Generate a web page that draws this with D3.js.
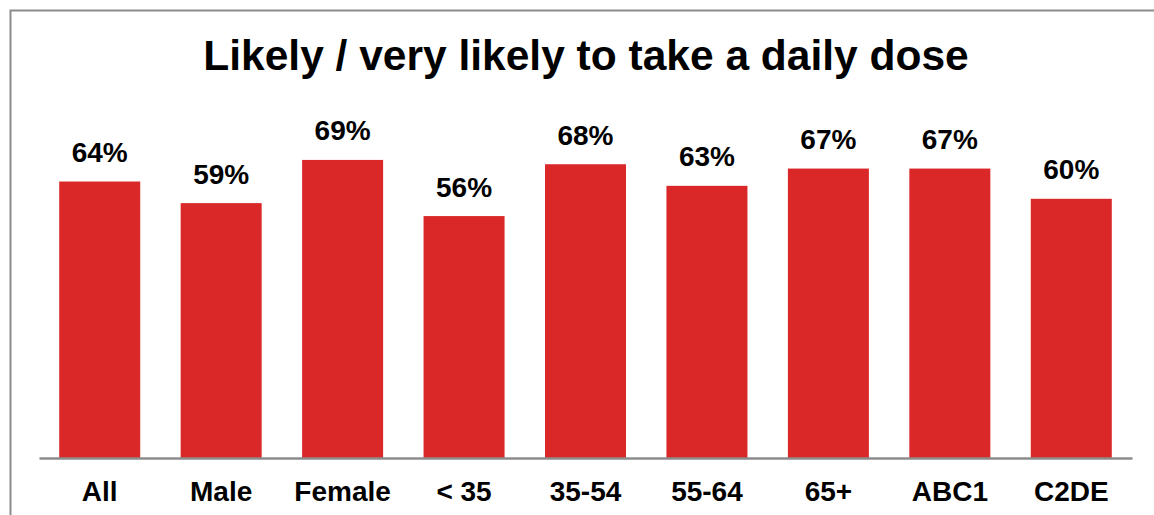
<html>
<script src='https://d3js.org/d3.v7.min.js'></script>
<style>
body {margin: 0; background: white;}
text {font-family: "Liberation Sans", Arial, sans-serif; font-weight: bold; fill: black;}
</style>
<body onload='init()'>
<svg width=1154 height=515></svg>
<script>
var title = "Likely / very likely to take a daily dose";
var categories = ["All", "Male", "Female", "< 35", "35-54", "55-64", "65+", "ABC1", "C2DE"];
var values = [64, 59, 69, 56, 68, 63, 67, 67, 60];

function init() {
var svg = d3.select("svg");
var baseline = 458;

// frame, open on the right and bottom
svg.append("path")
   .attr("d", "M10.5,515 V10.5 H1154")
   .attr("fill", "none")
   .attr("stroke", "#8c8c8c")
   .attr("stroke-width", 2);

var x = d3.scaleBand()
    .domain(categories)
    .range([39, 1132])
    .paddingInner(0.333)
    .paddingOuter(0.1665);

var y = d3.scaleLinear()
    .domain([0, 100])
    .range([baseline, 26]);

svg.append("text")
   .attr("x", 586)
   .attr("y", 70)
   .attr("text-anchor", "middle")
   .style("font-size", "42.5px")
   .text(title);

var g = svg.append("g");

g.selectAll("rect")
  .data(values)
  .enter()
  .append("rect")
    .attr("x", function (d, i) { return x(categories[i]); })
    .attr("y", function (d) { return y(d); })
    .attr("width", x.bandwidth())
    .attr("height", function (d) { return baseline - y(d); })
    .attr("fill", "#da2828");

g.selectAll("text.val")
  .data(values)
  .enter()
  .append("text")
    .attr("class", "val")
    .attr("x", function (d, i) { return x(categories[i]) + x.bandwidth() / 2; })
    .attr("y", function (d) { return y(d) - 19.5; })
    .attr("text-anchor", "middle")
    .style("font-size", "28px")
    .text(function (d) { return d + "%"; });

// category axis
var axis = svg.append("g")
    .attr("transform", "translate(0," + baseline + ")")
    .call(d3.axisBottom(x).tickSize(0).tickPadding(34));
axis.select(".domain")
    .attr("stroke", "#8c8c8c")
    .attr("stroke-width", 2.5);
axis.selectAll("text")
    .attr("fill", "black")
    .style("font-size", "28px")
    .style("font-family", "'Liberation Sans', Arial, sans-serif")
    .style("font-weight", "bold")
    .attr("dy", null)
    .attr("y", 43);
}
</script>
</body>
</html>
